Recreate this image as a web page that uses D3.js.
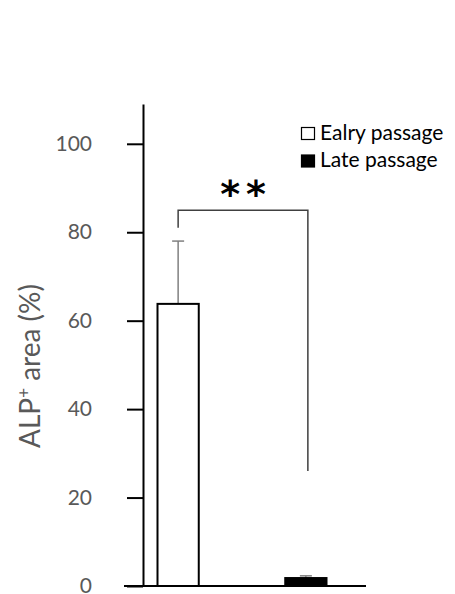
<!DOCTYPE html>
<html>
<head>
<meta charset="utf-8">
<script src="https://cdn.jsdelivr.net/npm/d3@7/dist/d3.min.js"></script>
<style>
  html, body { margin: 0; padding: 0; background: #fff; }
  svg { display: block; }
</style>
</head>
<body>
<div id="chart"></div>
<script>
const W = 455, H = 594;

// Data
const categories = ['Ealry passage', 'Late passage'];
const means = [63.8, 1.8];
const errors = [14.2, 0.5];
const fills = ['#ffffff', '#000000'];
const yTicks = [0, 20, 40, 60, 80, 100];
// bracket: top level, left leg end, right leg end
const bracket = { top: 85, left: 81, right: 26, label: '**' };

const svg = d3.select('#chart').append('svg')
    .attr('width', W).attr('height', H);

const y = d3.scaleLinear().domain([0, 109]).range([586, 104]);
const x = d3.scaleBand().domain(categories)
    .range([157.5, 326.5]).paddingInner(0.677).paddingOuter(0);

const axisX = 143;
const gray = '#595959';
const font = 'Lato, "Open Sans", sans-serif';

// Y axis
const yAxis = d3.axisLeft(y).tickValues(yTicks).tickSize(16).tickSizeOuter(0).tickPadding(35);
const gy = svg.append('g').attr('transform', `translate(${axisX},0)`).call(yAxis);
gy.select('.domain').attr('stroke', '#000').attr('stroke-width', 2);
gy.selectAll('.tick line').attr('stroke', '#000').attr('stroke-width', 2);
gy.selectAll('.tick text')
    .attr('fill', gray)
    .style('font-family', font)
    .style('font-size', '21px');

// Y label
svg.append('text')
    .attr('transform', `translate(40, 366) rotate(-90)`)
    .attr('text-anchor', 'middle')
    .attr('fill', gray)
    .style('font-family', font)
    .style('font-size', '28px')
    .html('ALP<tspan dy="-10" font-size="17px">+</tspan><tspan dy="10"> area (%)</tspan>');

// Error bars (upper only, drawn behind bars)
const gErr = svg.append('g').attr('stroke', '#808080').attr('stroke-width', 1.5);
categories.forEach((c, i) => {
    const cx = x(c) + x.bandwidth() / 2;
    gErr.append('line')
        .attr('x1', cx).attr('x2', cx)
        .attr('y1', y(means[i])).attr('y2', y(means[i] + errors[i]));
    gErr.append('line')
        .attr('x1', cx - 6).attr('x2', cx + 6)
        .attr('y1', y(means[i] + errors[i])).attr('y2', y(means[i] + errors[i]));
});

// Bars
svg.append('g').selectAll('rect')
    .data(categories)
    .join('rect')
    .attr('x', d => x(d))
    .attr('y', (d, i) => y(means[i]))
    .attr('width', x.bandwidth())
    .attr('height', (d, i) => y(0) - y(means[i]))
    .attr('fill', (d, i) => fills[i])
    .attr('stroke', '#000')
    .attr('stroke-width', 2);

// Baseline
svg.append('line')
    .attr('x1', 124).attr('x2', 366)
    .attr('y1', y(0)).attr('y2', y(0))
    .attr('stroke', '#000').attr('stroke-width', 2);

// Significance bracket
const bx1 = x(categories[0]) + x.bandwidth() / 2;
const bx2 = x(categories[1]) + x.bandwidth() / 2 + 2;
svg.append('path')
    .attr('d', `M${bx1},${y(bracket.left)}V${y(bracket.top)}H${bx2}V${y(bracket.right)}`)
    .attr('fill', 'none')
    .attr('stroke', '#404040')
    .attr('stroke-width', 1.5);
svg.append('text')
    .attr('x', (bx1 + bx2) / 2 + 3)
    .attr('y', y(bracket.top) - 3)
    .attr('text-anchor', 'middle')
    .style('font-family', '"DejaVu Sans", sans-serif')
    .style('font-weight', 'bold')
    .style('font-size', '38px')
    .style('letter-spacing', '6px')
    .text(bracket.label);

// Legend
const legend = svg.append('g').attr('transform', 'translate(301, 127)');
categories.forEach((c, i) => {
    const g = legend.append('g').attr('transform', `translate(0, ${i * 27.5})`);
    g.append('rect')
        .attr('x', 0.5).attr('y', 0.5)
        .attr('width', 13).attr('height', 12)
        .attr('fill', fills[i]).attr('stroke', '#000').attr('stroke-width', 1.2);
    g.append('text')
        .attr('x', 19).attr('y', 12.5)
        .attr('fill', '#000')
        .style('font-family', font)
        .style('font-size', '21px')
        .text(c);
});
</script>
</body>
</html>
